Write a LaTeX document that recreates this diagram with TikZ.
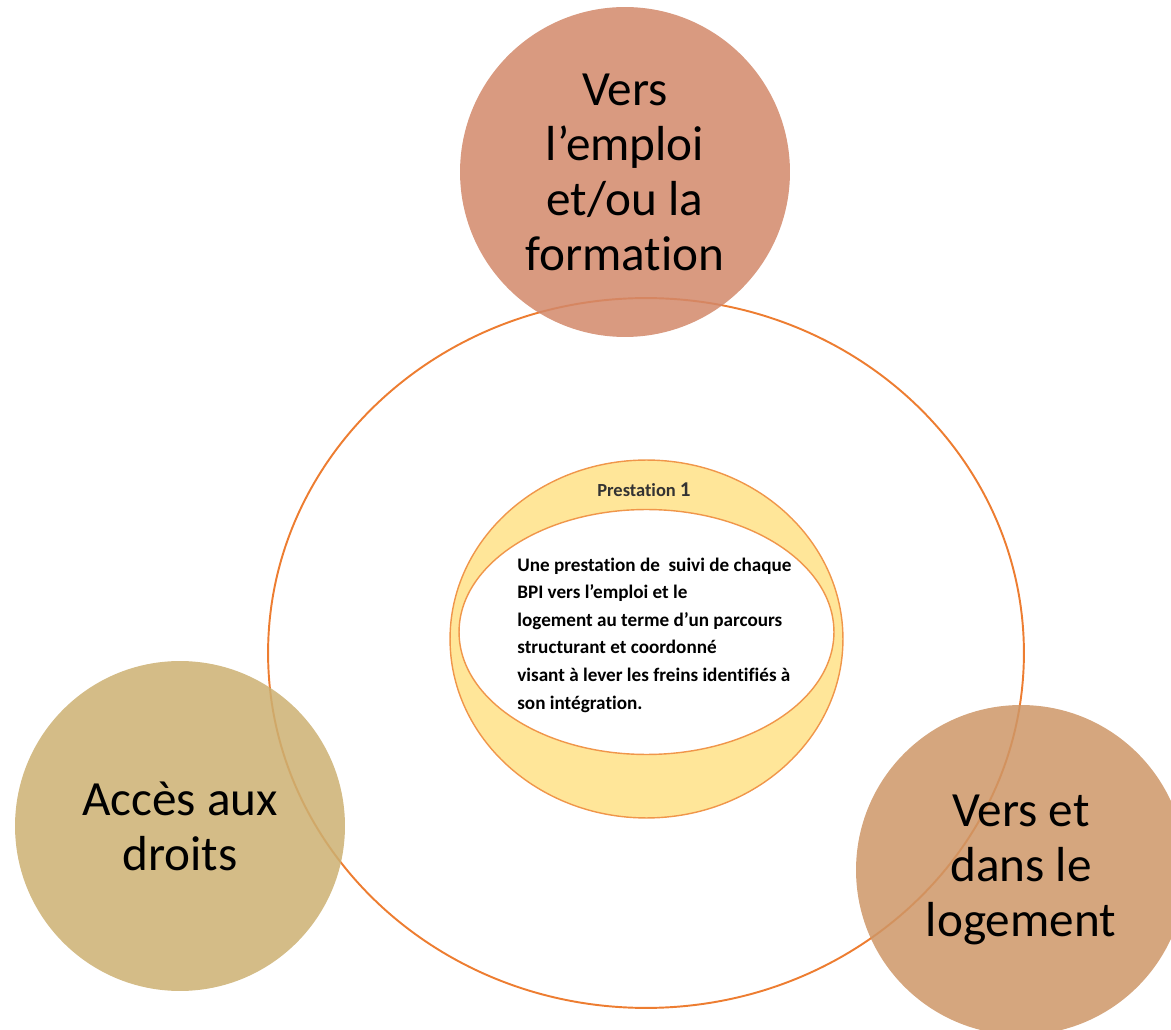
\documentclass[tikz,border=0pt]{standalone}
\usepackage{fontspec}
\setmainfont{Carlito}[Ligatures=NoCommon]
\usetikzlibrary{shapes.geometric}
\definecolor{ringorange}{HTML}{ED7D31}
\definecolor{paleorange}{HTML}{F0964A}
\definecolor{paleyellow}{HTML}{FFE699}
\definecolor{salmon}{HTML}{D2886A}
\definecolor{sand}{HTML}{CCB072}
\definecolor{caramel}{HTML}{CE9667}
\tikzstyle{theme}=[circle, inner sep=0pt, minimum size=6.6cm, fill opacity=0.85, text opacity=1, align=center, font=\fontsize{28}{31.3}\selectfont]
\tikzstyle{ring}=[ellipse, draw=paleorange, line width=0.8pt, inner sep=0pt]
\newcommand{\theme}{\node[theme]}

\begin{document}
\begin{tikzpicture}[x=0.02cm, y=-0.02cm]
\useasboundingbox (0,0) rectangle (1171,1030);
%outer ring
\node[ellipse, draw=ringorange, line width=1.1pt, minimum width=15.12cm, minimum height=14.2cm] (outer) at (646,653){};
%prestation
\node[ring, fill=paleyellow, minimum width=7.86cm, minimum height=7.16cm] (presta) at (646.5,639){};
\node[ring, fill=white, minimum width=7.5cm, minimum height=4.9cm] (inner) at (646.5,632){};
\node[text=black!80, font=\bfseries\fontsize{10.5}{12}\selectfont] (title) at (644,490){Prestation {\large 1}};
\node[anchor=west, inner sep=0pt, align=left, font=\bfseries\fontsize{10.9}{15.7}\selectfont] (desc) at (517,635){Une prestation de\ \ suivi de chaque\\BPI vers l’emploi et le\\logement au terme d’un parcours\\structurant et coordonné\\visant à lever les freins identifiés à\\son intégration.};
%themes
\theme[fill=salmon] (emploi) at (625,172){Vers\\l’emploi\\et/ou la\\formation};
\theme[fill=sand] (droits) at (180,826){Accès aux\\droits};
\theme[fill=caramel] (logement) at (1021,870){Vers et\\dans le\\logement};
\end{tikzpicture}
\end{document}
